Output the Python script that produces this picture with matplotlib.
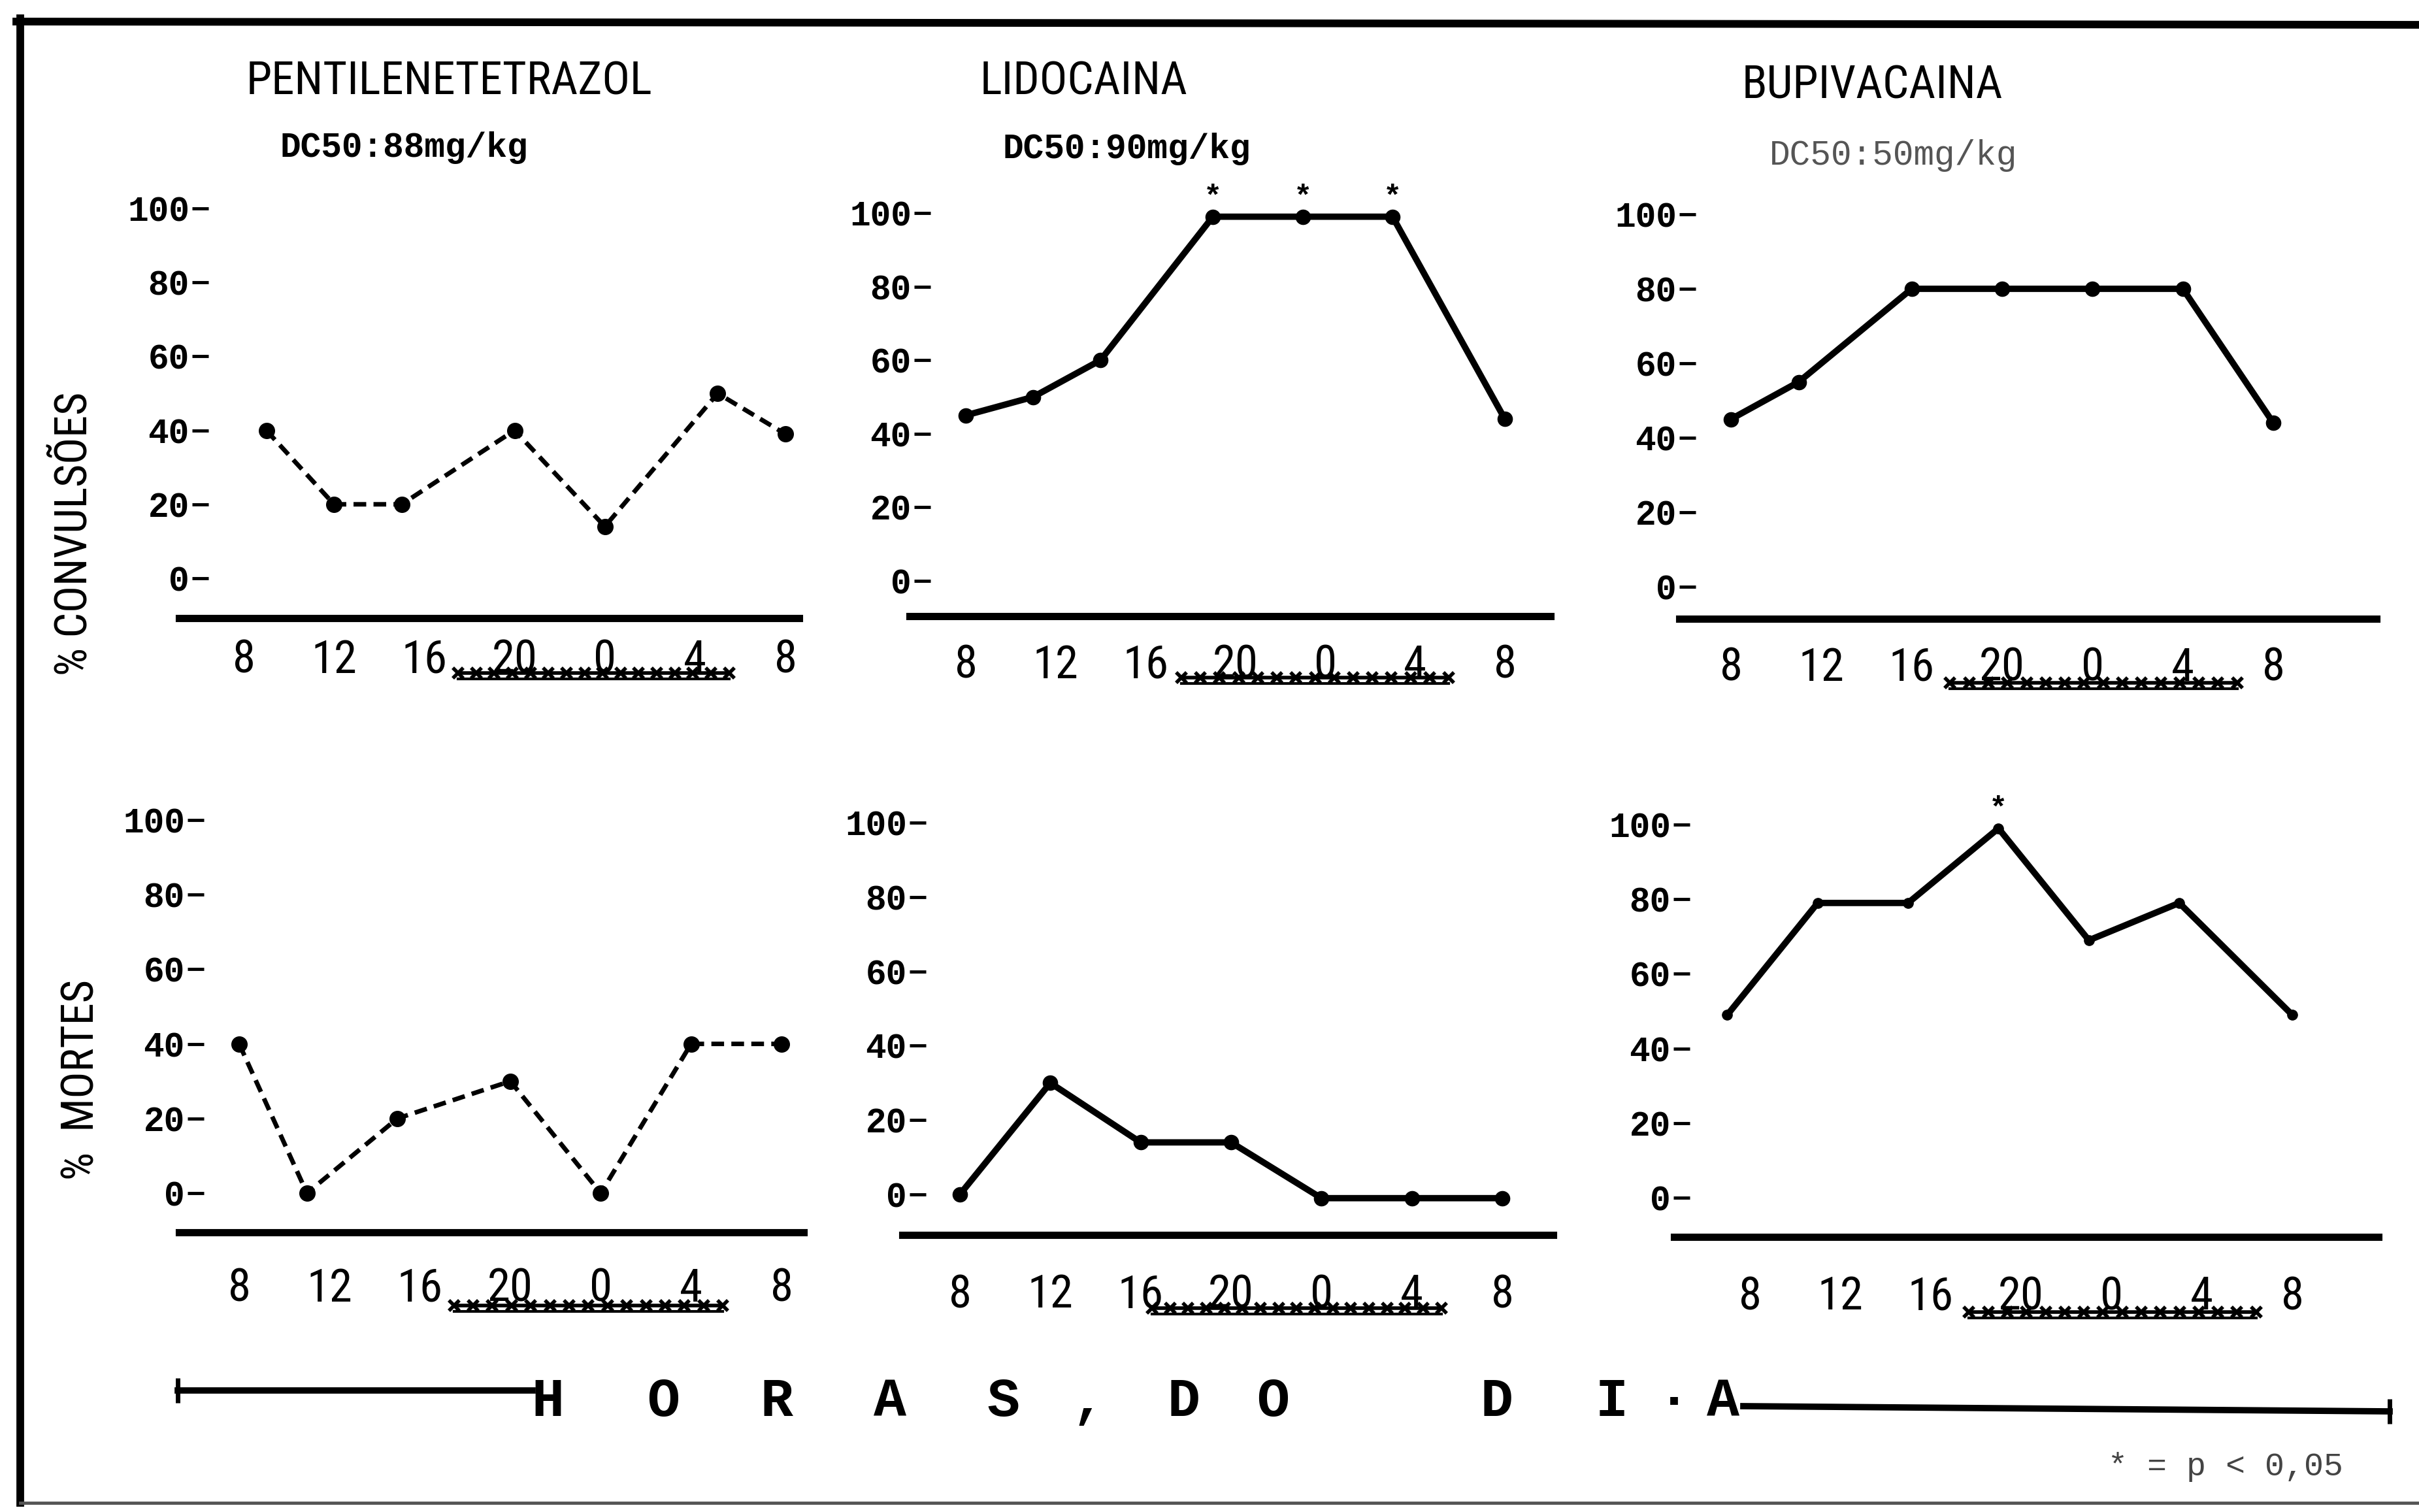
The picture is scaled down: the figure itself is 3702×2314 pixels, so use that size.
import matplotlib
matplotlib.use("Agg")
import matplotlib.pyplot as plt
import matplotlib.transforms as mtransforms
from matplotlib import font_manager
from matplotlib.lines import Line2D
import numpy as np

# ---- data ----
hour_ticks = [8, 12, 16, 20, 24, 28, 32]
hour_labels = ["8", "12", "16", "20", "0", "4", "8"]
pct_ticks = [0, 20, 40, 60, 80, 100]
pct_labels = ["0", "20", "40", "60", "80", "100"]

drugs = ["PENTILENETETRAZOL", "LIDOCAINA", "BUPIVACAINA"]
doses = ["DC50:88mg/kg", "DC50:90mg/kg", "DC50:50mg/kg"]

# % convulsions (top row)
conv_pentil_x = [9, 12, 15, 20, 24, 29, 32]
conv_pentil = [40, 20, 20, 40, 14, 50, 39]
conv_lido_x = [8, 11, 14, 19, 23, 27, 32]
conv_lido = [45, 50, 60, 99, 99, 99, 44]
conv_bupi_x = [8, 11, 16, 20, 24, 28, 32]
conv_bupi = [45, 55, 80, 80, 80, 80, 44]

# % deaths (bottom row)
mort_pentil_x = [8, 11, 15, 20, 24, 28, 32]
mort_pentil = [40, 0, 20, 30, 0, 40, 40]
mort_lido_x = [8, 12, 16, 20, 24, 28, 32]
mort_lido = [0, 30, 14, 14, -1, -1, -1]
mort_bupi_x = [7, 11, 15, 19, 23, 27, 32]
mort_bupi = [49, 79, 79, 99, 69, 79, 49]

# points marked * (p < 0,05)
conv_lido_sig = [3, 4, 5]
mort_bupi_sig = [3]

# dark period underline under "20 0 4" (hours)
dark_period = [(17.5, 29.5), (17.6, 29.5), (17.7, 30.4),
               (17.5, 29.4), (16.5, 29.3), (17.7, 30.4)]

series = [
    (conv_pentil_x, conv_pentil, []),
    (conv_lido_x, conv_lido, conv_lido_sig),
    (conv_bupi_x, conv_bupi, []),
    (mort_pentil_x, mort_pentil, []),
    (mort_lido_x, mort_lido, []),
    (mort_bupi_x, mort_bupi, mort_bupi_sig),
]

# ---- page geometry, in pixels of the 3702x2314 scan ----
W, H = 3702, 2314
panels = [
    dict(dash=319, left=274, right=1223, axis=946, y100=319, y0=885, t8=373, t32=1202, pad=22, ul=84),
    dict(dash=1424, left=1392, right=2373, axis=943, y100=326, y0=889, t8=1478, t32=2303, pad=30, ul=94),
    dict(dash=2595, left=2570, right=3637, axis=947, y100=328, y0=898, t8=2649, t32=3479, pad=30, ul=98),
    dict(dash=312, left=274, right=1230, axis=1886, y100=1255, y0=1826, t8=366, t32=1196, pad=38, ul=112),
    dict(dash=1417, left=1381, right=2377, axis=1890, y100=1259, y0=1828, t8=1469, t32=2299, pad=42, ul=112),
    dict(dash=2586, left=2562, right=3640, axis=1893, y100=1262, y0=1833, t8=2678, t32=3508, pad=42, ul=115),
]
marker_sizes = [17, 16, 16, 17, 16, 11]

MONO = ["Liberation Mono", "DejaVu Sans Mono"]


# the typed lettering is tall and narrow: look for any condensed sans face
def pick_narrow():
    good = []
    for f in font_manager.fontManager.ttflist:
        narrow = ("Narrow" in f.name or "Condensed" in f.name
                  or f.stretch in ("condensed", "semi-condensed", "extra-condensed"))
        if narrow and f.style == "normal" and f.weight in (400, "normal", "regular"):
            good.append(f)
    order = ["Liberation Sans Narrow", "Roboto Condensed", "DejaVu Sans",
             "Noto Sans", "Open Sans", "Lato", "Inter"]
    good.sort(key=lambda f: order.index(f.name) if f.name in order else 99)
    if good:
        return font_manager.FontProperties(fname=good[0].fname), True
    return font_manager.FontProperties(family="DejaVu Sans"), False


narrow_fp, is_narrow = pick_narrow()
big = 51 if is_narrow else 40


def nfp(size):
    fp = narrow_fp.copy()
    fp.set_size(size)
    return fp


def fx(px):
    return px / W


def fy(py):
    return 1 - py / H


fig = plt.figure(figsize=(W / 100, H / 100), dpi=100)
fig.patch.set_facecolor("white")

for i, (p, (xs, ys, sig)) in enumerate(zip(panels, series)):
    col = i % 3
    scale = (p["y0"] - p["y100"]) / 100
    ytop = 112
    top_px = p["y0"] - ytop * scale
    ax_h = p["axis"] - top_px
    ax = fig.add_axes([fx(p["dash"]), fy(p["axis"]),
                       (p["right"] - p["dash"]) / W, ax_h / H])
    ax.patch.set_alpha(0)
    pph = (p["t32"] - p["t8"]) / 24
    ax.set_xlim(8 - (p["t8"] - p["dash"]) / pph, 8 + (p["right"] - p["t8"]) / pph)
    ybot = -(p["axis"] - p["y0"]) / scale
    ax.set_ylim(ybot, ytop)
    for s in ax.spines.values():
        s.set_visible(False)

    if col == 0:
        ax.plot(xs, ys, color="black", lw=5, ls=(0, (2.8, 1.6)),
                marker="o", ms=marker_sizes[i], clip_on=False)
    else:
        ax.plot(xs, ys, color="black", lw=7, marker="o",
                ms=marker_sizes[i], clip_on=False)

    for k in sig:
        ax.annotate("*", (xs[k], ys[k]), xytext=(0, 21), textcoords="offset points",
                    ha="center", va="center", fontsize=34, family=MONO,
                    fontweight="bold", annotation_clip=False)

    # thick horizontal axis line, running a bit left of the y ticks
    ax.axhline(ybot, xmin=(p["left"] - p["dash"]) / (p["right"] - p["dash"]),
               xmax=1, color="black", lw=8, clip_on=False)

    ax.set_yticks(pct_ticks)
    ax.set_yticklabels(pct_labels, family=MONO, fontweight="bold", fontsize=38,
                       color="black" if col < 2 else "#333333")
    ax.tick_params(axis="y", length=18, width=3.5, pad=3, colors="black")
    ax.set_xticks(hour_ticks)
    ax.set_xticklabels(hour_labels, fontproperties=nfp(big))
    ax.tick_params(axis="x", length=0, pad=p["pad"])

    # typed "x-x-x" underline marking the dark hours
    a, b = dark_period[i]
    n = int((b - a) / 0.8) + 1
    blend = mtransforms.blended_transform_factory(ax.transData, ax.transAxes)
    yu = -p["ul"] / ax_h
    ax.plot(np.linspace(a, b, n), [yu] * n, transform=blend, color="black",
            lw=4, marker="x", ms=11, mew=4, clip_on=False)
    ax.plot([a, b], [yu - 9 / ax_h] * 2, transform=blend, color="black",
            lw=3, clip_on=False)

# titles and doses
title_pos = [(687, 125), (1659, 125), (2865, 131)]
dose_pos = [(618, 226), (1724, 228), (2898, 238)]
for j in range(3):
    fig.text(fx(title_pos[j][0]), fy(title_pos[j][1]), drugs[j], ha="center",
             va="center", fontproperties=nfp(big))
    fig.text(fx(dose_pos[j][0]), fy(dose_pos[j][1]), doses[j], ha="center",
             va="center", fontsize=38, family=MONO,
             fontweight="bold" if j < 2 else "normal",
             color="black" if j < 2 else "#555555")

fig.text(fx(114), fy(817), "% CONVULSÕES", rotation=90, ha="center", va="center",
         fontproperties=nfp(big - 2))
fig.text(fx(124), fy(1653), "%  MORTES", rotation=90, ha="center", va="center",
         fontproperties=nfp(big - 2))

# "HORAS DO DIA" typed across the bottom, between two rules
letters = ["H", "O", "R", "A", "S", ",", "D", "O", "D", "I", "·", "A"]
letter_x = [838, 1015, 1188, 1362, 1535, 1665, 1811, 1948, 2290, 2467, 2562, 2637]
for ch, lx in zip(letters, letter_x):
    fig.text(fx(lx), fy(2145), ch, ha="center", va="center", fontsize=60,
             family=MONO, fontweight="bold")

fig.add_artist(Line2D([fx(272), fx(815)], [fy(2128), fy(2128)], color="black",
                      lw=7, marker="|", ms=28, mew=5, markevery=[0]))
fig.add_artist(Line2D([fx(2668), fx(3657)], [fy(2152), fy(2160)], color="black",
                      lw=7, marker="|", ms=28, mew=5, markevery=[1]))

fig.text(fx(3406), fy(2245), "* = p < 0,05", ha="center", va="center",
         fontsize=36, family=MONO, color="#444444")

# page frame
fig.add_artist(Line2D([fx(25), 1.0], [fy(33), fy(38)], color="black", lw=8.5))
fig.add_artist(Line2D([fx(31), fx(31)], [fy(28), fy(2300)], color="black", lw=8.5))
fig.add_artist(Line2D([fx(31), 1.0], [fy(2300), fy(2300)], color="#555555", lw=3.5))

fig.savefig("out.png", dpi=100, facecolor="white")
